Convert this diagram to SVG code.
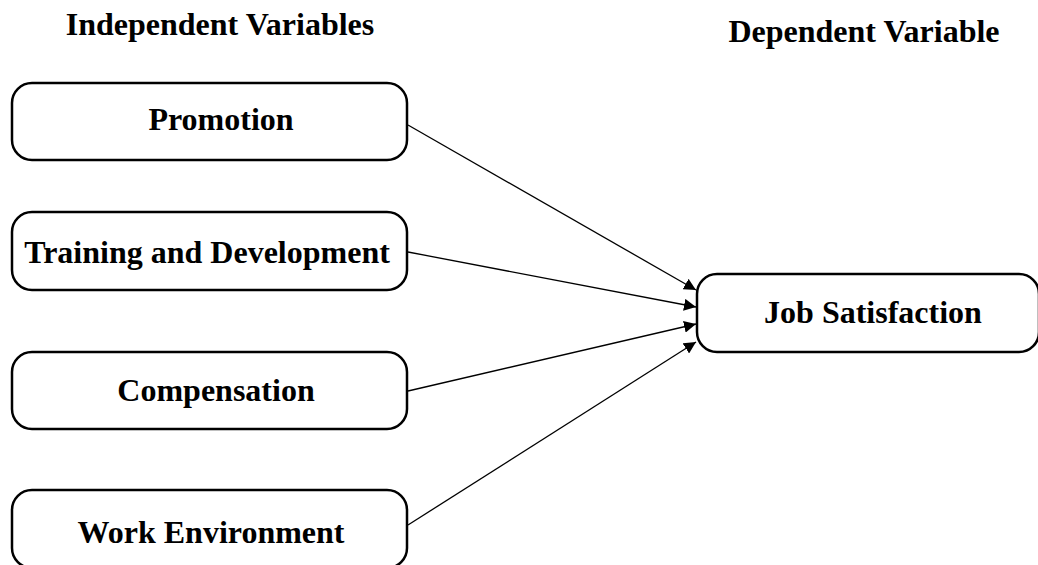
<svg xmlns="http://www.w3.org/2000/svg" width="1038" height="565" viewBox="0 0 1038 565">
<style>
.box{fill:#fff;stroke:#000;stroke-width:2.5}
.t{font-family:"Liberation Serif","Times New Roman",serif;font-weight:bold;font-size:32px;text-anchor:middle;fill:#000}
.c{stroke:#000;stroke-width:1.3;fill:none;marker-end:url(#ah)}
</style>
<defs>
<marker id="ah" viewBox="0 0 10 10" refX="10" refY="5" markerWidth="12" markerHeight="12" markerUnits="userSpaceOnUse" orient="auto">
<path d="M0,0 L10,5 L0,10 Z" fill="#000"/>
</marker>
</defs>
<rect width="1038" height="565" fill="#fff"/>
<text class="t" x="220" y="35">Independent Variables</text>
<text class="t" x="864" y="42">Dependent Variable</text>
<g id="connectors">
<line class="c" x1="408" y1="125" x2="696" y2="290"/>
<line class="c" x1="408" y1="252" x2="696" y2="307"/>
<line class="c" x1="408" y1="391" x2="696" y2="324"/>
<line class="c" x1="408" y1="525" x2="696" y2="342"/>
</g>
<g id="promotion">
<rect class="box" x="12" y="83" width="395" height="77" rx="20"/>
<text class="t" x="221" y="130">Promotion</text>
</g>
<g id="training">
<rect class="box" x="12" y="212" width="395" height="78" rx="20"/>
<text class="t" x="207" y="263">Training and Development</text>
</g>
<g id="compensation">
<rect class="box" x="12" y="352" width="395" height="77" rx="20"/>
<text class="t" x="216" y="401">Compensation</text>
</g>
<g id="work-environment">
<rect class="box" x="12" y="490" width="395" height="78" rx="20"/>
<text class="t" x="211" y="543">Work Environment</text>
</g>
<g id="job-satisfaction">
<rect class="box" x="697" y="274" width="342" height="78" rx="20"/>
<text class="t" x="873" y="323">Job Satisfaction</text>
</g>
</svg>
